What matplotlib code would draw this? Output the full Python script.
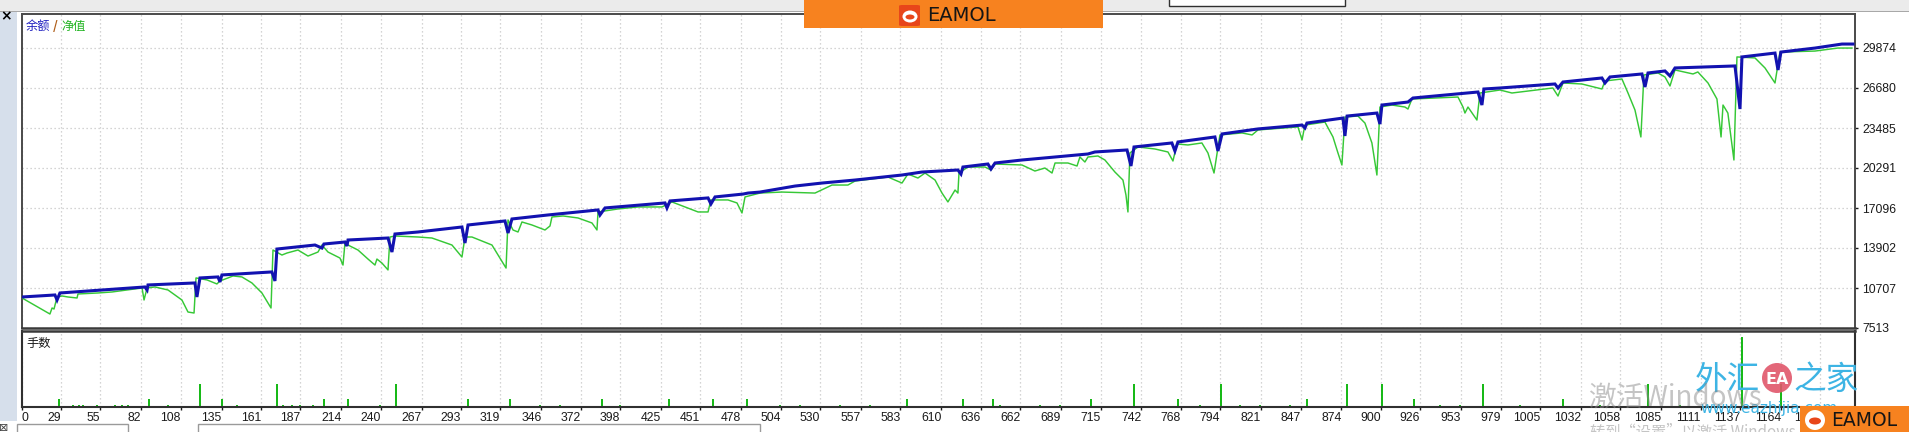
import matplotlib
matplotlib.use("Agg")
import matplotlib.pyplot as plt
from matplotlib.patches import Rectangle, Ellipse, FancyBboxPatch

# ---------------- data ----------------
balance_trades = [3.3, 25.0, 26.4, 28.3, 84.4, 85.8, 86.4, 117.4, 118.7, 120.7, 132.6, 133.9, 135.2,
                  168.2, 170.2, 171.5, 196.6, 201.2, 202.5, 216.4, 217.7, 218.4, 244.8, 247.4, 249.4,
                  264.6, 293.6, 295.6, 297.6, 322.0, 324.0, 326.6, 350.4, 383.4, 384.7, 388.0, 427.6,
                  428.9, 430.9, 456.0, 457.9, 460.6, 479.1, 482.4, 490.3, 513.4, 531.2, 553.0, 584.0,
                  597.2, 620.9, 622.9, 624.2, 640.7, 642.7, 645.4, 663.2, 685.0, 706.7, 711.3, 732.5,
                  735.1, 737.1, 762.1, 764.1, 766.1, 790.5, 792.5, 795.2, 818.9, 848.0, 849.9, 851.2,
                  875.0, 876.3, 877.7, 897.4, 899.4, 900.7, 917.9, 921.2, 964.1, 966.7, 968.0, 978.6,
                  1014.9, 1016.9, 1020.2, 1045.9, 1047.9, 1051.2, 1072.3, 1074.3, 1076.3, 1087.5,
                  1090.8, 1094.1, 1133.7, 1137.0, 1138.3, 1160.1, 1162.1, 1164.0, 1186.5, 1204.3, 1211.5]
balance_values = [9990, 10150, 9750, 10310, 10790, 10550, 10950, 11110, 9990, 11510, 11590, 11190, 11750,
                  11990, 11270, 13820, 14140, 13900, 14220, 14380, 14060, 14540, 14700, 13580, 15020,
                  15180, 15580, 14300, 15740, 16060, 15100, 16220, 16540, 16940, 16540, 17100, 17500,
                  17100, 17660, 17900, 17420, 17980, 18210, 18290, 18370, 18850, 19090, 19330, 19730,
                  19970, 20130, 19810, 20370, 20610, 20210, 20690, 20930, 21170, 21410, 21570, 21730,
                  20450, 21970, 22290, 21650, 22370, 22770, 21650, 23010, 23410, 23720, 23490, 23880,
                  24280, 22850, 24440, 24680, 23800, 25320, 25560, 25880, 26360, 25320, 26600, 26680,
                  27000, 26680, 27160, 27480, 27080, 27560, 27800, 26760, 27880, 28040,
                  27640, 28280, 28440, 25000, 29160, 29470, 28120, 29550, 29870, 30190, 30190]

equity_trades = [3.3, 21.7, 23.1, 24.4, 26.4, 29.7, 33.6, 39.6, 40.2, 53.4, 62.7, 82.5, 83.8, 85.8,
                 91.0, 99.6, 108.8, 112.8, 116.8, 118.1, 125.4, 131.9, 133.9, 139.2, 142.5, 148.4,
                 155.0, 161.6, 167.6, 168.9, 174.8, 178.1, 185.4, 192.0, 198.6, 201.2, 205.2, 213.1,
                 215.1, 216.4, 219.7, 225.0, 231.6, 236.2, 237.5, 240.8, 244.8, 246.1, 249.4, 264.6,
                 273.8, 287.0, 293.6, 295.6, 300.2, 313.4, 318.7, 322.7, 324.0, 327.3, 330.6, 333.2,
                 339.8, 348.4, 351.7, 353.0, 360.3, 370.2, 379.4, 382.7, 383.4, 396.6, 409.8, 425.6,
                 432.2, 449.4, 456.0, 457.9, 469.2, 475.1, 478.4, 480.4, 490.3, 504.8, 526.6, 537.8,
                 548.3, 553.0, 574.7, 584.0, 587.9, 594.5, 599.2, 605.8, 610.4, 614.3, 617.0, 619.0,
                 620.9, 621.6, 627.5, 638.8, 642.7, 645.4, 663.2, 671.7, 678.3, 683.0, 685.0, 693.5,
                 699.5, 701.4, 704.7, 706.7, 713.3, 717.9, 724.5, 729.8, 731.8, 733.1, 734.4, 739.7,
                 750.9, 759.5, 762.8, 765.4, 772.7, 781.9, 785.9, 789.9, 793.8, 808.4, 815.0, 818.9,
                 845.3, 848.0, 849.9, 863.1, 868.4, 871.7, 874.3, 876.3, 884.9, 889.5, 894.1, 897.4,
                 899.4, 907.3, 915.9, 917.9, 920.5, 950.9, 954.2, 955.5, 957.5, 963.4, 965.4, 978.6,
                 986.5, 1013.5, 1016.9, 1020.2, 1032.7, 1045.9, 1047.9, 1059.1, 1063.1, 1067.7, 1071.6,
                 1073.6, 1082.9, 1087.5, 1090.8, 1094.1, 1106.0, 1109.2, 1115.9, 1121.8, 1124.5, 1125.8,
                 1129.0, 1133.0, 1135.0, 1146.9, 1153.5, 1160.1, 1163.4, 1186.5, 1201.6, 1210.9]
equity_values = [9910, 8630, 9110, 9030, 9990, 10070, 9990, 9910, 10230, 10310, 10390, 10710, 9750, 10710,
                 10790, 10550, 9750, 8790, 8710, 11510, 11350, 11030, 11270, 11510, 11670, 11590,
                 11110, 10310, 9110, 13740, 13340, 13500, 13740, 13260, 13580, 14140, 13580, 13100,
                 12540, 14300, 14060, 13740, 13020, 12540, 13020, 12700, 12150, 14780, 14860, 14780,
                 14700, 14140, 13180, 14780, 14780, 14140, 13100, 12300, 16140, 15340, 15180, 15980,
                 15740, 15340, 15660, 16380, 16460, 16300, 15900, 15340, 16780, 17020, 17180, 17180,
                 17580, 16780, 16780, 17740, 17740, 17500, 16700, 17980, 18290, 18370, 18290, 18930,
                 18930, 19250, 19570, 19090, 19810, 19490, 19890, 19330, 18290, 17580, 18130, 18530,
                 18290, 19890, 20370, 20370, 20130, 20610, 20530, 20050, 20290, 19890, 20690, 20690,
                 20450, 21170, 20770, 21170, 21250, 20930, 19970, 19330, 18130, 16780, 21490, 21970,
                 21810, 21570, 20850, 22210, 22130, 22290, 21490, 19890, 22930, 23090, 22930, 23330,
                 23570, 22530, 23720, 23960, 22770, 21490, 20530, 24360, 24440, 23880, 22290, 19730,
                 25160, 25320, 25160, 25000, 25800, 25960, 25160, 24680, 25160, 24120, 26280, 26520,
                 26280, 26680, 26040, 27080, 27000, 26600, 27240, 27400, 26280, 24920, 22770,
                 27720, 27880, 27560, 26840, 28120, 27800, 27960, 27080, 25800, 22770, 25320,
                 24680, 20930, 29160, 29080, 28280, 27080, 29550, 29630, 29870, 29870]

lot_trades = [27.7, 87.1, 120.7, 135.2, 171.5, 202.6, 218.4, 250.1, 297.6, 325.3, 386.0, 430.2, 459.3,
              481.7, 587.3, 624.2, 644.0, 708.7, 737.1, 766.1, 794.5, 851.2, 877.7, 900.7, 921.8,
              967.4, 1020.2, 1076.3, 1138.3, 1164.0,
              36.9, 40.9, 43.5, 52.8, 64.6, 69.3, 73.2, 99.6, 145.1, 175.5, 181.4, 186.7, 195.3,
              239.5, 345.1, 358.3, 397.9, 503.5, 516.7, 543.1, 562.9, 648.6, 675.0, 688.2, 780.6,
              807.0, 820.2, 840.0, 939.0, 952.2, 991.8, 1044.6, 1097.4]
lot_sizes = [0.1, 0.1, 0.3, 0.1, 0.3, 0.1, 0.1, 0.3, 0.1, 0.1, 0.1, 0.1, 0.1,
             0.1, 0.1, 0.1, 0.1, 0.1, 0.3, 0.1, 0.3, 0.1, 0.3, 0.3, 0.1,
             0.3, 0.1, 0.3, 0.92, 0.3,
             0.03, 0.03, 0.03, 0.03, 0.03, 0.03, 0.03, 0.03, 0.03, 0.03, 0.03, 0.03, 0.03,
             0.03, 0.03, 0.03, 0.03, 0.03, 0.03, 0.03, 0.03, 0.03, 0.03, 0.03, 0.03,
             0.03, 0.03, 0.03, 0.03, 0.03, 0.03, 0.03, 0.03]

y_tick_values = [7513, 10707, 13902, 17096, 20291, 23485, 26680, 29874]
x_tick_labels = [0, 29, 55, 82, 108, 135, 161, 187, 214, 240, 267, 293, 319, 346, 372, 398, 425, 451,
                 478, 504, 530, 557, 583, 610, 636, 662, 689, 715, 742, 768, 794, 821, 847, 874, 900,
                 926, 953, 979, 1005, 1032, 1058, 1085, 1111, 1137, 1164, 1190]

# ---------------- layout ----------------
W, H = 1909, 432
fig = plt.figure(figsize=(W / 100, H / 100), dpi=100, facecolor="white")

def fx(px):
    return px / W

def fy(py):
    return 1 - py / H

def rect(x0, y0, x1, y1, **kw):
    fig.add_artist(Rectangle((fx(x0), fy(y1)), fx(x1) - fx(x0), fy(y0) - fy(y1),
                             transform=fig.transFigure, **kw))

def ell(cx, cy, w, h, **kw):
    fig.add_artist(Ellipse((fx(cx), fy(cy)), w / W, h / H, transform=fig.transFigure, **kw))

def txt(x, y, s, **kw):
    fig.text(fx(x), fy(y), s, **kw)

CJK = ["Noto Sans CJK SC", "DejaVu Sans"]
NUMF = "Liberation Sans"

L, R, T, SEP, B = 22, 1855, 14, 328, 407
ax = fig.add_axes([fx(L), fy(SEP), fx(R) - fx(L), fy(T) - fy(SEP)])
axv = fig.add_axes([fx(L), fy(B), fx(R) - fx(L), fy(331) - fy(B)])

x_left, x_right = 3.27, 1212.9
y_step = (y_tick_values[-1] - y_tick_values[0]) / (len(y_tick_values) - 1)
y_top = y_tick_values[0] + y_step * (SEP - T) / 40.0
x_pos = [max(v, x_left) for v in x_tick_labels]

grid_kw = dict(color="#c6c6c6", linestyle=(0, (1, 2.2)), linewidth=0.9)

# main panel
ax.plot(equity_trades, equity_values, color="#36c836", lw=1.05, zorder=3)
ax.plot(balance_trades, balance_values, color="#1212b0", lw=2.2, zorder=4,
        solid_joinstyle="miter")
ax.set_xlim(x_left, x_right)
ax.set_ylim(y_tick_values[0], y_top)
ax.set_xticks(x_pos)
ax.tick_params(axis="x", length=0, labelbottom=False)
ax.yaxis.tick_right()
ax.set_yticks(y_tick_values)
ax.set_yticklabels([str(v) for v in y_tick_values])
ax.tick_params(axis="y", direction="out", length=2.5, width=1, pad=2.5,
               labelsize=8.8, colors="#1a1a1a")
for lbl in ax.get_yticklabels():
    lbl.set_fontfamily(NUMF)
ax.grid(True, **grid_kw)
ax.set_axisbelow(True)
for s in ["left", "top", "right"]:
    ax.spines[s].set_color("#4a4a4a")
    ax.spines[s].set_linewidth(1.4)
ax.spines["bottom"].set_color("#3a3a3a")
ax.spines["bottom"].set_linewidth(1.8)

# volume panel
axv.vlines(lot_trades, 0, lot_sizes, color="#12b812", lw=1.4)
axv.set_xlim(x_left, x_right)
axv.set_ylim(0, 1.0)
axv.set_yticks([])
axv.set_xticks(x_pos)
axv.set_xticklabels([str(v) for v in x_tick_labels])
axv.tick_params(axis="x", direction="out", length=2.2, width=1, pad=1.5,
                labelsize=8.8, colors="#1a1a1a")
for i, lbl in enumerate(axv.get_xticklabels()):
    lbl.set_fontfamily(NUMF)
    lbl.set_ha("left" if i == 0 else "right")
axv.grid(True, axis="x", **grid_kw)
axv.set_axisbelow(True)
for s in ["left", "right", "bottom"]:
    axv.spines[s].set_color("#303030")
    axv.spines[s].set_linewidth(1.5)
axv.spines["top"].set_color("#3a3a3a")
axv.spines["top"].set_linewidth(1.8)

# panel titles
txt(26, 26, "余额", fontsize=8.8, color="#2020c0", va="center", family=CJK)
txt(52.5, 26, "/", fontsize=9, color="#b0601c", va="center", fontweight="bold", family=CJK)
txt(61, 26, "净值", fontsize=8.8, color="#22b422", va="center", family=CJK)
txt(26, 343, "手数", fontsize=8.8, color="#1a1a1a", va="center", family=CJK)

# ---------------- window chrome ----------------
rect(0, 0, W, 11, fc="#ebebeb", ec="none", zorder=0.5)
rect(0, 10.5, W, 12, fc="#a8a8a8", ec="none", zorder=0.6)
rect(1169, -3, 1345, 6, fc="white", ec="#303030", lw=1, zorder=0.7)
rect(0, 12, 17, 421, fc="#d6dfeb", ec="none", zorder=0.5)
txt(6, 16, "×", fontsize=10, fontweight="bold", color="black", ha="center", va="center")
rect(17, 424, 128, 440, fc="none", ec="#9a9a9a", lw=1, zorder=0.7)
rect(198, 424, 760, 440, fc="none", ec="#9a9a9a", lw=1, zorder=0.7)
txt(4, 428, "⊠", fontsize=8, color="#404040", ha="center", va="center")

# top banner
rect(804, 0, 1103, 28, fc="#f7821f", ec="none", zorder=5)
fig.add_artist(FancyBboxPatch((fx(899), fy(26)), fx(21), 21 / H,
                              boxstyle="round,pad=0,rounding_size=0.002",
                              transform=fig.transFigure, fc="#e8461a", ec="none", zorder=6))
ell(910, 16.5, 15, 12, fc="white", ec="none", zorder=7)
ell(910, 17, 9, 5, fc="#e8461a", ec="none", zorder=8)
txt(927, 15.5, "EAMOL", fontsize=14, color="#151515", va="center", zorder=9)

# watermarks
txt(1695, 380, "外汇", fontsize=23.5, color="#3db4e4", va="center", family=CJK, zorder=4)
ell(1777, 378, 30, 30, fc="#e0566b", ec="none", alpha=0.9, zorder=4)
txt(1777, 379, "EA", fontsize=11.5, color="white", ha="center", va="center", fontweight="bold", zorder=4.5)
txt(1793, 380, "之家", fontsize=23.5, color="#3db4e4", va="center", family=CJK, zorder=4)
txt(1700, 409, "www.eazhijia.com", fontsize=11, color="#3db4e4", va="center", zorder=4)
txt(1588, 398, "激活Windows", fontsize=20, color="#8a8a8a", alpha=0.5, va="center", family=CJK, zorder=4)
txt(1590, 423, "转到“设置”以激活 Windows。", fontsize=11, color="#8a8a8a", alpha=0.5,
    va="top", family=CJK, zorder=4)

# bottom-right badge
rect(1800, 406, W + 2, H + 2, fc="#f7821f", ec="none", zorder=5)
ell(1815, 420, 20, 20, fc="white", ec="none", zorder=6)
ell(1815, 421, 12, 7, fc="#e8461a", ec="none", zorder=7)
txt(1831, 420, "EAMOL", fontsize=13.5, color="#151515", va="center", zorder=8)

fig.savefig("out.png", dpi=100, facecolor="white")
